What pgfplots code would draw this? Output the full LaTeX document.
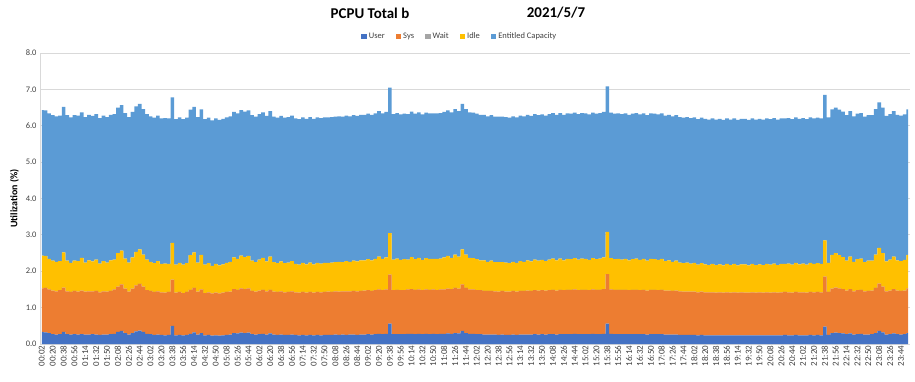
\documentclass[border=0pt]{standalone}
\usepackage{fontspec}
\setmainfont{Carlito}
\usepackage{pgfplots}
\usepackage{pgfplotstable}
\pgfplotsset{compat=1.18}
\definecolor{cUser}{HTML}{4472C4}
\definecolor{cSys}{HTML}{ED7D31}
\definecolor{cWait}{HTML}{A5A5A5}
\definecolor{cIdle}{HTML}{FFC000}
\definecolor{cCap}{HTML}{5B9BD5}
\definecolor{cText}{HTML}{404040}
\definecolor{cGrid}{HTML}{D9D9D9}
\pgfplotstableread{
t u s w i c
2 0.33 1.20 0 0.90 4
8 0.32 1.22 0 0.88 4
14 0.30 1.20 0 0.84 4
20 0.27 1.20 0 0.82 4
26 0.26 1.19 0 0.81 4
32 0.27 1.21 0 0.80 4
38 0.33 1.22 0 0.97 4
44 0.27 1.18 0 0.84 4
50 0.26 1.17 0 0.80 4
56 0.27 1.19 0 0.83 4
62 0.26 1.18 0 0.84 4
68 0.27 1.20 0 0.90 4
74 0.26 1.18 0 0.80 4
80 0.26 1.19 0 0.85 4
86 0.27 1.18 0 0.82 4
92 0.26 1.20 0 0.86 4
98 0.25 1.17 0 0.79 4
104 0.26 1.19 0 0.83 4
110 0.26 1.18 0 0.80 4
116 0.27 1.19 0 0.84 4
122 0.28 1.22 0 0.82 4
128 0.33 1.25 0 0.92 4
134 0.36 1.28 0 0.93 4
140 0.30 1.22 0 0.83 4
146 0.26 1.18 0 0.80 4
152 0.30 1.22 0 0.86 4
158 0.35 1.26 0 0.92 4
164 0.37 1.28 0 0.95 4
170 0.33 1.25 0 0.88 4
176 0.28 1.20 0 0.84 4
182 0.27 1.19 0 0.80 4
188 0.25 1.18 0 0.79 4
194 0.26 1.19 0 0.83 4
200 0.25 1.17 0 0.78 4
206 0.24 1.17 0 0.80 4
212 0.25 1.18 0 0.77 4
218 0.50 1.27 0 1.01 4
224 0.24 1.17 0 0.77 4
230 0.25 1.18 0 0.80 4
236 0.24 1.16 0 0.78 4
242 0.25 1.18 0 0.79 4
248 0.28 1.21 0 0.95 4
254 0.32 1.22 0 0.98 4
260 0.26 1.18 0 0.80 4
266 0.30 1.20 0 0.95 4
272 0.24 1.16 0 0.78 4
278 0.25 1.17 0 0.80 4
284 0.23 1.16 0 0.76 4
290 0.24 1.17 0 0.79 4
296 0.23 1.16 0 0.77 4
302 0.24 1.17 0 0.78 4
308 0.25 1.18 0 0.80 4
314 0.26 1.18 0 0.82 4
320 0.30 1.21 0 0.87 4
326 0.29 1.20 0 0.85 4
332 0.31 1.22 0 0.90 4
338 0.30 1.21 0 0.88 4
344 0.31 1.22 0 0.89 4
350 0.27 1.19 0 0.83 4
356 0.26 1.18 0 0.81 4
362 0.27 1.20 0 0.85 4
368 0.28 1.21 0 0.88 4
374 0.26 1.19 0 0.82 4
380 0.29 1.20 0 0.91 4
386 0.26 1.18 0 0.81 4
392 0.25 1.18 0 0.79 4
398 0.26 1.19 0 0.82 4
404 0.25 1.17 0 0.80 4
410 0.25 1.18 0 0.81 4
416 0.26 1.19 0 0.83 4
422 0.25 1.17 0 0.78 4
428 0.24 1.17 0 0.77 4
434 0.25 1.18 0 0.80 4
440 0.24 1.17 0 0.78 4
446 0.25 1.18 0 0.81 4
452 0.24 1.17 0 0.78 4
458 0.25 1.18 0 0.80 4
464 0.24 1.18 0 0.79 4
470 0.25 1.18 0 0.80 4
476 0.25 1.19 0 0.79 4
482 0.25 1.18 0 0.81 4
488 0.26 1.19 0 0.80 4
494 0.25 1.19 0 0.82 4
500 0.26 1.19 0 0.80 4
506 0.25 1.20 0 0.83 4
512 0.26 1.19 0 0.81 4
518 0.26 1.20 0 0.83 4
524 0.25 1.20 0 0.82 4
530 0.26 1.20 0 0.84 4
536 0.26 1.21 0 0.83 4
542 0.27 1.21 0 0.85 4
548 0.26 1.20 0 0.84 4
554 0.27 1.21 0 0.86 4
560 0.28 1.22 0 0.90 4
566 0.27 1.21 0 0.86 4
572 0.28 1.22 0 0.88 4
578 0.56 1.35 0 1.14 4
584 0.27 1.21 0 0.84 4
590 0.27 1.22 0 0.86 4
596 0.27 1.21 0 0.83 4
602 0.27 1.21 0 0.85 4
608 0.28 1.22 0 0.82 4
614 0.28 1.23 0 0.88 4
620 0.27 1.22 0 0.84 4
626 0.28 1.22 0 0.87 4
632 0.27 1.21 0 0.83 4
638 0.28 1.22 0 0.86 4
644 0.27 1.22 0 0.85 4
650 0.28 1.22 0 0.84 4
656 0.27 1.21 0 0.86 4
662 0.28 1.22 0 0.85 4
668 0.28 1.22 0 0.88 4
674 0.29 1.23 0 0.90 4
680 0.28 1.23 0 0.86 4
686 0.30 1.24 0 0.92 4
692 0.29 1.23 0 0.88 4
698 0.36 1.28 0 0.96 4
704 0.30 1.24 0 0.92 4
710 0.28 1.22 0 0.87 4
716 0.28 1.22 0 0.86 4
722 0.27 1.21 0 0.85 4
728 0.27 1.21 0 0.82 4
734 0.26 1.20 0 0.84 4
740 0.26 1.20 0 0.80 4
746 0.26 1.20 0 0.83 4
752 0.26 1.19 0 0.80 4
758 0.25 1.19 0 0.81 4
764 0.26 1.20 0 0.79 4
770 0.25 1.19 0 0.80 4
776 0.25 1.19 0 0.78 4
782 0.26 1.20 0 0.80 4
788 0.25 1.19 0 0.79 4
794 0.26 1.20 0 0.82 4
800 0.26 1.20 0 0.80 4
806 0.26 1.21 0 0.83 4
812 0.26 1.20 0 0.81 4
818 0.27 1.21 0 0.84 4
824 0.26 1.21 0 0.82 4
830 0.27 1.21 0 0.83 4
836 0.26 1.21 0 0.81 4
842 0.27 1.21 0 0.84 4
848 0.27 1.22 0 0.86 4
854 0.26 1.21 0 0.83 4
860 0.27 1.22 0 0.86 4
866 0.27 1.21 0 0.82 4
872 0.27 1.22 0 0.85 4
878 0.27 1.22 0 0.84 4
884 0.28 1.22 0 0.86 4
890 0.27 1.21 0 0.84 4
896 0.27 1.22 0 0.86 4
902 0.27 1.22 0 0.85 4
908 0.27 1.21 0 0.83 4
914 0.28 1.22 0 0.86 4
920 0.27 1.22 0 0.84 4
926 0.27 1.22 0 0.86 4
932 0.28 1.23 0 0.87 4
938 0.56 1.36 0 1.16 4
944 0.28 1.22 0 0.86 4
950 0.27 1.22 0 0.84 4
956 0.27 1.22 0 0.85 4
962 0.27 1.22 0 0.83 4
968 0.27 1.22 0 0.85 4
974 0.27 1.21 0 0.82 4
980 0.27 1.22 0 0.84 4
986 0.27 1.22 0 0.86 4
992 0.27 1.21 0 0.83 4
998 0.27 1.22 0 0.85 4
1004 0.26 1.21 0 0.82 4
1010 0.27 1.22 0 0.85 4
1016 0.27 1.22 0 0.84 4
1022 0.27 1.21 0 0.83 4
1028 0.27 1.22 0 0.85 4
1034 0.26 1.21 0 0.81 4
1040 0.26 1.21 0 0.83 4
1046 0.26 1.20 0 0.80 4
1052 0.26 1.21 0 0.82 4
1058 0.25 1.20 0 0.79 4
1064 0.25 1.19 0 0.78 4
1070 0.25 1.19 0 0.80 4
1076 0.25 1.19 0 0.77 4
1082 0.25 1.19 0 0.79 4
1088 0.24 1.18 0 0.76 4
1094 0.25 1.19 0 0.78 4
1100 0.24 1.18 0 0.77 4
1106 0.24 1.18 0 0.75 4
1112 0.24 1.18 0 0.78 4
1118 0.24 1.17 0 0.76 4
1124 0.24 1.18 0 0.77 4
1130 0.24 1.17 0 0.75 4
1136 0.24 1.18 0 0.78 4
1142 0.24 1.17 0 0.76 4
1148 0.24 1.18 0 0.78 4
1154 0.24 1.17 0 0.75 4
1160 0.24 1.18 0 0.77 4
1166 0.24 1.17 0 0.78 4
1172 0.24 1.17 0 0.75 4
1178 0.24 1.18 0 0.78 4
1184 0.24 1.17 0 0.76 4
1190 0.24 1.18 0 0.77 4
1196 0.24 1.17 0 0.76 4
1202 0.24 1.18 0 0.78 4
1208 0.24 1.17 0 0.77 4
1214 0.24 1.18 0 0.79 4
1220 0.24 1.17 0 0.76 4
1226 0.24 1.18 0 0.78 4
1232 0.25 1.18 0 0.77 4
1238 0.24 1.18 0 0.79 4
1244 0.24 1.17 0 0.77 4
1250 0.25 1.18 0 0.80 4
1256 0.24 1.18 0 0.77 4
1262 0.24 1.18 0 0.79 4
1268 0.24 1.17 0 0.77 4
1274 0.25 1.18 0 0.80 4
1280 0.24 1.18 0 0.78 4
1286 0.25 1.18 0 0.79 4
1292 0.24 1.18 0 0.78 4
1298 0.48 1.37 0 1.00 4
1304 0.25 1.18 0 0.80 4
1310 0.30 1.22 0 0.93 4
1316 0.31 1.24 0 0.95 4
1322 0.30 1.23 0 0.91 4
1328 0.29 1.22 0 0.88 4
1334 0.27 1.20 0 0.82 4
1340 0.29 1.22 0 0.89 4
1346 0.26 1.19 0 0.81 4
1352 0.27 1.21 0 0.85 4
1358 0.28 1.21 0 0.86 4
1364 0.26 1.19 0 0.80 4
1370 0.26 1.20 0 0.83 4
1376 0.27 1.20 0 0.82 4
1382 0.30 1.24 0 0.92 4
1388 0.36 1.30 0 0.98 4
1394 0.32 1.26 0 0.92 4
1400 0.26 1.19 0 0.82 4
1406 0.27 1.20 0 0.85 4
1412 0.29 1.22 0 0.89 4
1418 0.27 1.20 0 0.83 4
1424 0.26 1.20 0 0.82 4
1430 0.27 1.20 0 0.84 4
1436 0.30 1.23 0 0.92 4
}\datatable
\begin{document}
\begin{tikzpicture}[x=1bp,y=1bp]
\path[use as bounding box] (0,0) rectangle (915,381);
\node[font=\bfseries\fontsize{15}{17}\selectfont, text=black] at (370,368) {PCPU Total b};
\node[font=\bfseries\fontsize{15}{17}\selectfont, text=black] at (556,368) {2021/5/7};
\begin{axis}[
  at={(40bp,37bp)}, anchor=south west,
  scale only axis, width=870bp, height=291bp,
  xmin=-1, xmax=1439, ymin=0, ymax=8,
  stack plots=y,
  xtick={2,20,...,1424},
  xticklabels={00:02,00:20,00:38,00:56,01:14,01:32,01:50,02:08,02:26,02:44,03:02,03:20,03:38,03:56,04:14,04:32,04:50,05:08,05:26,05:44,06:02,06:20,06:38,06:56,07:14,07:32,07:50,08:08,08:26,08:44,09:02,09:20,09:38,09:56,10:14,10:32,10:50,11:08,11:26,11:44,12:02,12:20,12:38,12:56,13:14,13:32,13:50,14:08,14:26,14:44,15:02,15:20,15:38,15:56,16:14,16:32,16:50,17:08,17:26,17:44,18:02,18:20,18:38,18:56,19:14,19:32,19:50,20:08,20:26,20:44,21:02,21:20,21:38,21:56,22:14,22:32,22:50,23:08,23:26,23:44},
  xticklabel style={rotate=90, anchor=east, font=\fontsize{9}{10}\selectfont, text=cText, inner sep=1.5bp},
  ytick={0,1,...,8},
  yticklabel style={font=\fontsize{8.5}{10}\selectfont, text=cText},
  /pgf/number format/.cd, fixed, fixed zerofill, precision=1, assume math mode=true,
  /pgfplots/.cd,
  major tick length=0pt,
  ymajorgrids, grid style={cGrid, line width=0.8bp},
  axis line style={cGrid, line width=0.8bp},
  axis x line*=bottom, axis y line*=left,
  ylabel={\bfseries Utilization (\%)},
  ylabel style={font=\fontsize{8.5}{10}\selectfont, text=black},
  every axis y label/.style={at={(ticklabel cs:0.5)}, rotate=90, anchor=south, yshift=0bp},
  legend style={at={(0.4825,1.03)}, anchor=south, draw=none, fill=none,
    font=\fontsize{8.5}{10}\selectfont, text=cText, legend columns=-1,
    /tikz/every even column/.append style={column sep=9bp}},
  legend image code/.code={\fill[#1] (0bp,-2.8bp) rectangle (5.5bp,2.8bp);},
]
\addplot[fill=cUser, draw=none, const plot mark mid] table[x=t, y=u] {\datatable} \closedcycle;
\addplot[fill=cSys, draw=none, const plot mark mid] table[x=t, y=s] {\datatable} \closedcycle;
\addplot[fill=cWait, draw=none, const plot mark mid] table[x=t, y=w] {\datatable} \closedcycle;
\addplot[fill=cIdle, draw=none, const plot mark mid] table[x=t, y=i] {\datatable} \closedcycle;
\addplot[fill=cCap, draw=none, const plot mark mid] table[x=t, y=c] {\datatable} \closedcycle;
\legend{User, Sys, Wait, Idle, Entitled Capacity}
\end{axis}
\end{tikzpicture}
\end{document}
